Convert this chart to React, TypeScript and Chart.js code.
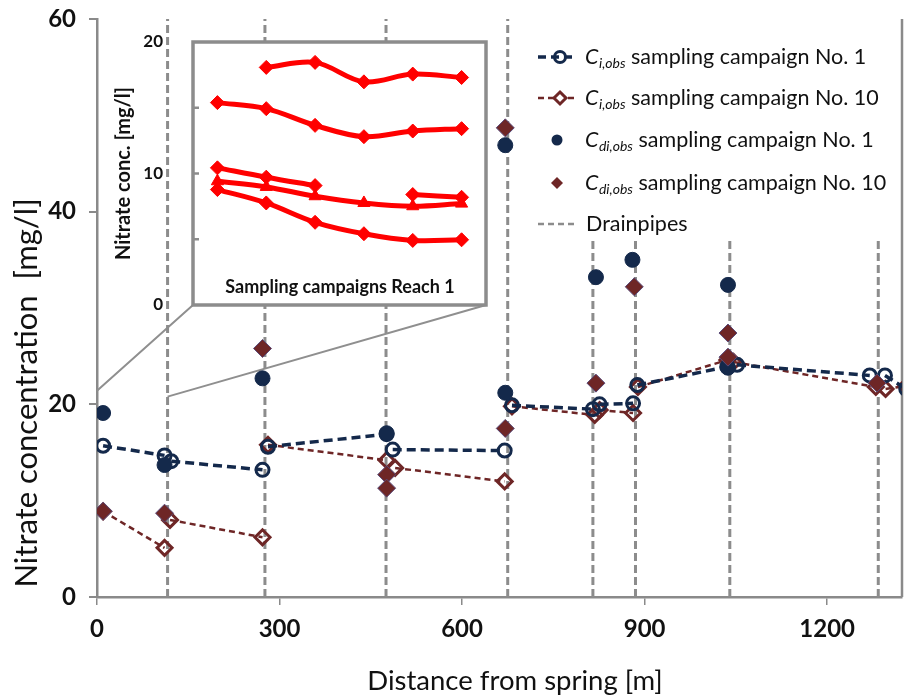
import React, { useEffect, useRef } from "react";
import { Chart, registerables } from "chart.js";

Chart.register(...registerables);

// ---------------- data ----------------
const drainDist = [116, 276, 475, 675, 815, 885, 1040, 1284];
const drainTop = [60, 60, 60, 60, 37, 37, 37, 37];

// C_i,obs campaign No. 1 (null = break between reaches)
const ci1Dist = [10, 111, null, 122, 272, null, 281, 476, null, 486, 670, null, 682, 815, null, 826, 881, null, 888, 1036, null, 1052, 1270, null, 1295, 1330];
const ci1Conc = [15.7, 14.7, null, 14.1, 13.2, null, 15.6, 16.9, null, 15.3, 15.2, null, 19.9, 19.5, null, 20.0, 20.1, null, 22.0, 23.9, null, 24.1, 23.0, null, 23.0, 21.6];

// C_i,obs campaign No. 10
const ci10Dist = [10, 111, null, 120, 272, null, 281, 476, null, 490, 670, null, 682, 818, null, 826, 881, null, 889, 1036, null, 1046, 1280, null, 1296, 1330];
const ci10Conc = [8.9, 5.1, null, 8.0, 6.2, null, 15.8, 14.2, null, 13.4, 12.0, null, 19.8, 18.9, null, 19.4, 19.1, null, 21.8, 24.6, null, 24.4, 21.8, null, 21.6, 21.9];

// C_di,obs campaign No. 1
const cdi1Dist = [10, 111, 272, 476, 671, 671, 820, 880, 1037, 1037];
const cdi1Conc = [19.1, 13.7, 22.7, 17.0, 21.2, 46.9, 33.2, 35.0, 32.4, 23.8];

// C_di,obs campaign No. 10
const cdi10Dist = [10, 111, 272, 476, 476, 671, 671, 820, 883, 1037, 1037, 1282];
const cdi10Conc = [8.9, 8.7, 25.8, 12.7, 11.3, 48.7, 17.5, 22.2, 32.2, 27.4, 24.9, 22.2];

const xTicks = [0, 300, 600, 900, 1200];
const yTicks = [0, 20, 40, 60];

// inset: sampling campaigns reach 1
const insetCampaign = [1, 2, 3, 4, 5, 6];
const insetA = [null, 18.07, 18.45, 16.97, 17.56, 17.3];
const insetB = [15.39, 14.93, 13.66, 12.8, 13.23, 13.41];
const insetC = [10.43, 9.72, 9.08, null, 8.4, 8.19];
const insetD = [9.41, 8.98, 8.27, 7.76, 7.51, 7.71];
const insetE = [8.78, 7.76, 6.29, 5.42, 4.91, 4.96];

// callout anchor on main chart
const calloutDist = [0, 116];
const calloutConc = [21.4, 20.8];

// ---------------- styles ----------------
const FONT = "Lato, 'Open Sans', sans-serif";
const NAVY = "#14294b";
const BROWN = "#6e2626";
const AXIS = "#8a8a8a";
const DRAIN = "#8c8c8c";
const TEXT = "#111111";
const RED = "#ff0000";

const INSET = { left: 100, top: 20, width: 400, height: 300, padTop: 22, padRight: 14, padBottom: 15, yWidth: 93 };
const insetBoxLeft = INSET.left + INSET.yWidth;
const insetBoxRight = INSET.left + INSET.width - INSET.padRight;
const insetBoxBottom = INSET.top + INSET.height - INSET.padBottom;

function zip(d: (number | null)[], v: (number | null)[]) {
  const out: { x: number; y: number | null }[] = [];
  let last = 0;
  d.forEach((xv, i) => {
    const x = xv == null ? last : xv;
    last = x;
    out.push({ x, y: v[i] });
  });
  return out;
}

function drainData() {
  const out: { x: number; y: number | null }[] = [];
  drainDist.forEach((x, i) => {
    out.push({ x, y: 0 }, { x, y: drainTop[i] }, { x, y: null });
  });
  return out;
}

function noPad(s: any) {
  s.paddingTop = 0;
  s.paddingBottom = 0;
  s.paddingLeft = 0;
  s.paddingRight = 0;
}

function drawDiamond(ctx: CanvasRenderingContext2D, x: number, y: number, r: number) {
  ctx.beginPath();
  ctx.moveTo(x, y - r);
  ctx.lineTo(x + r, y);
  ctx.lineTo(x, y + r);
  ctx.lineTo(x - r, y);
  ctx.closePath();
}

function drawRich(ctx: CanvasRenderingContext2D, x: number, yc: number, sub: string, rest: string) {
  ctx.fillStyle = TEXT;
  ctx.textBaseline = "alphabetic";
  ctx.textAlign = "left";
  ctx.font = `italic 21.5px ${FONT}`;
  ctx.fillText("C", x, yc + 7);
  let cx = x + ctx.measureText("C").width + 0.5;
  ctx.font = `italic 14px ${FONT}`;
  ctx.fillText(sub, cx, yc + 11);
  cx += ctx.measureText(sub).width;
  ctx.font = `21.5px ${FONT}`;
  ctx.fillText(rest, cx, yc + 7);
}

const mainDecor = {
  id: "mainDecor",
  beforeDatasetsDraw(chart: any) {
    const { ctx, chartArea: a, scales } = chart;
    const x = scales.x;
    const y = scales.y;
    ctx.save();
    ctx.strokeStyle = AXIS;
    ctx.lineWidth = 2.5;
    ctx.beginPath();
    ctx.moveTo(a.right, a.top);
    ctx.lineTo(a.right, a.bottom);
    ctx.stroke();
    ctx.lineWidth = 2;
    ctx.strokeStyle = "#8f8f8f";
    ctx.beginPath();
    ctx.moveTo(x.getPixelForValue(calloutDist[0]), y.getPixelForValue(calloutConc[0]));
    ctx.lineTo(insetBoxLeft, insetBoxBottom);
    ctx.moveTo(x.getPixelForValue(calloutDist[1]), y.getPixelForValue(calloutConc[1]));
    ctx.lineTo(insetBoxRight, insetBoxBottom);
    ctx.stroke();
    ctx.restore();
  },
  afterDraw(chart: any) {
    const { ctx } = chart;
    ctx.save();
    // axis titles
    ctx.fillStyle = TEXT;
    ctx.textAlign = "center";
    ctx.textBaseline = "middle";
    ctx.font = `27.5px ${FONT}`;
    ctx.fillText("Distance from spring [m]", 515, 681);
    ctx.save();
    ctx.translate(27, 393);
    ctx.rotate(-Math.PI / 2);
    ctx.font = `31px ${FONT}`;
    ctx.fillText("Nitrate concentration  [mg/l]", 0, 0);
    ctx.restore();

    // legend
    const lx0 = 538, lx1 = 575, mx = 557, tx = 585;
    const rows = [57, 98, 140, 183, 224];
    // row 1
    ctx.strokeStyle = NAVY;
    ctx.lineWidth = 3.5;
    ctx.setLineDash([8, 5]);
    ctx.beginPath(); ctx.moveTo(lx0, rows[0]); ctx.lineTo(lx1, rows[0]); ctx.stroke();
    ctx.setLineDash([]);
    ctx.lineWidth = 3;
    ctx.beginPath(); ctx.arc(mx + 3, rows[0], 5.5, 0, Math.PI * 2); ctx.stroke();
    drawRich(ctx, tx, rows[0], "i,obs", " sampling campaign No. 1");
    // row 2
    ctx.strokeStyle = BROWN;
    ctx.lineWidth = 2.5;
    ctx.setLineDash([6, 4]);
    ctx.beginPath(); ctx.moveTo(lx0, rows[1]); ctx.lineTo(lx1, rows[1]); ctx.stroke();
    ctx.setLineDash([]);
    ctx.lineWidth = 3;
    ctx.fillStyle = "#ffffff";
    drawDiamond(ctx, mx + 3, rows[1], 6);
    ctx.fill();
    ctx.stroke();
    drawRich(ctx, tx, rows[1], "i,obs", " sampling campaign No. 10");
    // row 3
    ctx.fillStyle = NAVY;
    ctx.beginPath(); ctx.arc(mx, rows[2], 5.5, 0, Math.PI * 2); ctx.fill();
    drawRich(ctx, tx, rows[2], "di,obs", " sampling campaign No. 1");
    // row 4
    ctx.fillStyle = BROWN;
    drawDiamond(ctx, mx, rows[3], 6);
    ctx.fill();
    drawRich(ctx, tx, rows[3], "di,obs", " sampling campaign No. 10");
    // row 5
    ctx.strokeStyle = DRAIN;
    ctx.lineWidth = 2.5;
    ctx.setLineDash([6, 4]);
    ctx.beginPath(); ctx.moveTo(lx0, rows[4]); ctx.lineTo(lx1, rows[4]); ctx.stroke();
    ctx.setLineDash([]);
    ctx.fillStyle = TEXT;
    ctx.font = `21.5px ${FONT}`;
    ctx.textAlign = "left";
    ctx.textBaseline = "alphabetic";
    ctx.fillText("Drainpipes", tx + 1, rows[4] + 7);
    ctx.restore();
  },
};

const insetDecor = {
  id: "insetDecor",
  beforeDraw(chart: any) {
    const { ctx, chartArea: a } = chart;
    ctx.save();
    ctx.fillStyle = "#ffffff";
    ctx.fillRect(a.left, a.top, a.right - a.left, a.bottom - a.top);
    ctx.restore();
  },
  afterDraw(chart: any) {
    const { ctx, chartArea: a, scales } = chart;
    ctx.save();
    ctx.strokeStyle = "#8c8c8c";
    ctx.lineWidth = 3.5;
    ctx.strokeRect(a.left, a.top, a.right - a.left, a.bottom - a.top);
    ctx.lineWidth = 2.5;
    [5, 10, 15].forEach((v) => {
      const py = scales.y.getPixelForValue(v);
      ctx.beginPath();
      ctx.moveTo(a.left, py);
      ctx.lineTo(a.left + 6, py);
      ctx.stroke();
    });
    ctx.fillStyle = TEXT;
    ctx.font = `bold 18px ${FONT}`;
    ctx.textAlign = "center";
    ctx.textBaseline = "middle";
    ctx.fillText("Sampling campaigns Reach 1", 240, 267);
    ctx.restore();
  },
};

export default function App() {
  const mainRef = useRef<HTMLCanvasElement>(null);
  const insetRef = useRef<HTMLCanvasElement>(null);

  useEffect(() => {
    const main = new Chart(mainRef.current as HTMLCanvasElement, {
      type: "line",
      data: {
        datasets: [
          {
            label: "Cdi,obs sampling campaign No. 10",
            data: zip(cdi10Dist, cdi10Conc),
            showLine: false,
            pointStyle: "rectRot",
            pointRadius: 9,
            pointBackgroundColor: BROWN,
            pointBorderColor: "#5a4a78",
            pointBorderWidth: 1,
            order: 0,
          },
          {
            label: "Cdi,obs sampling campaign No. 1",
            data: zip(cdi1Dist, cdi1Conc),
            showLine: false,
            pointStyle: "circle",
            pointRadius: 7.5,
            pointBackgroundColor: NAVY,
            pointBorderColor: NAVY,
            pointBorderWidth: 1,
            order: 1,
          },
          {
            label: "Ci,obs sampling campaign No. 1",
            data: zip(ci1Dist, ci1Conc),
            borderColor: NAVY,
            borderWidth: 3.5,
            borderDash: [9, 5],
            pointStyle: "circle",
            pointRadius: 6.5,
            pointBorderWidth: 3,
            pointBorderColor: NAVY,
            pointBackgroundColor: "rgba(255,255,255,0)",
            spanGaps: false,
            order: 2,
          },
          {
            label: "Ci,obs sampling campaign No. 10",
            data: zip(ci10Dist, ci10Conc),
            borderColor: BROWN,
            borderWidth: 2.5,
            borderDash: [6, 4],
            pointStyle: "rectRot",
            pointRadius: 7.5,
            pointBorderWidth: 3,
            pointBorderColor: BROWN,
            pointBackgroundColor: "rgba(255,255,255,0)",
            spanGaps: false,
            order: 3,
          },
          {
            label: "Drainpipes",
            data: drainData(),
            borderColor: DRAIN,
            borderWidth: 3,
            borderDash: [8, 4],
            pointRadius: 0,
            spanGaps: false,
            order: 10,
          },
        ] as any,
      },
      options: {
        responsive: false,
        animation: false,
        events: [],
        layout: { autoPadding: false, padding: { top: 19, right: 5, left: 0, bottom: 0 } },
        plugins: { legend: { display: false }, tooltip: { enabled: false } },
        scales: {
          x: {
            type: "linear",
            min: 0,
            max: 1323,
            afterBuildTicks: (s: any) => {
              s.ticks = xTicks.map((v) => ({ value: v }));
            },
            afterFit: (s: any) => {
              s.height = 98;
              noPad(s);
            },
            ticks: {
              includeBounds: false,
              maxRotation: 0,
              autoSkip: false,
              padding: 10,
              color: TEXT,
              font: { family: FONT, size: 24, weight: "bold" },
              callback: (v: any) => String(v),
            },
            grid: { drawOnChartArea: false, drawTicks: true, tickLength: 8, color: AXIS, lineWidth: 1.5 },
            border: { color: AXIS, width: 2.5 },
          },
          y: {
            type: "linear",
            min: 0,
            max: 60,
            afterBuildTicks: (s: any) => {
              s.ticks = yTicks.map((v) => ({ value: v }));
            },
            afterFit: (s: any) => {
              s.width = 97;
              noPad(s);
            },
            ticks: {
              padding: 13,
              color: TEXT,
              font: { family: FONT, size: 24, weight: "bold" },
              callback: (v: any) => String(v),
            },
            grid: { drawOnChartArea: false, drawTicks: true, tickLength: 8, color: AXIS, lineWidth: 2 },
            border: { color: AXIS, width: 2.5 },
          },
        },
      } as any,
      plugins: [mainDecor],
    });

    const mk = (vals: (number | null)[], style: string) => ({
      data: insetCampaign.map((c, i) => ({ x: c, y: vals[i] })),
      borderColor: RED,
      borderWidth: 5,
      tension: 0.35,
      spanGaps: false,
      pointStyle: style,
      pointRadius: 7,
      pointBackgroundColor: RED,
      pointBorderColor: RED,
      pointBorderWidth: 1,
    });

    const inset = new Chart(insetRef.current as HTMLCanvasElement, {
      type: "line",
      data: {
        datasets: [
          mk(insetA, "rectRot"),
          mk(insetB, "rectRot"),
          mk(insetC, "rectRot"),
          mk(insetD, "triangle"),
          mk(insetE, "rectRot"),
        ] as any,
      },
      options: {
        responsive: false,
        animation: false,
        events: [],
        layout: {
          autoPadding: false,
          padding: { top: INSET.padTop, right: INSET.padRight, bottom: INSET.padBottom, left: 0 },
        },
        plugins: { legend: { display: false }, tooltip: { enabled: false } },
        scales: {
          x: { type: "linear", min: 0.5, max: 6.5, display: false },
          y: {
            type: "linear",
            min: 0,
            max: 20,
            afterFit: (s: any) => {
              s.width = INSET.yWidth;
              noPad(s);
            },
            ticks: {
              stepSize: 5,
              padding: 30,
              color: TEXT,
              font: { family: FONT, size: 17, weight: "bold" },
              callback: (v: any) => (Number(v) % 10 === 0 ? String(v) : ""),
            },
            grid: { display: false, drawTicks: false },
            border: { display: false },
            title: {
              display: true,
              text: "Nitrate conc. [mg/l]",
              color: TEXT,
              font: { family: FONT, size: 20, weight: "bold" },
              padding: { top: 12, bottom: 0 },
            },
          },
        },
      } as any,
      plugins: [insetDecor],
    });

    return () => {
      main.destroy();
      inset.destroy();
    };
  }, []);

  return (
    <div style={{ position: "absolute", left: 0, top: 0, width: 907, height: 695, background: "#ffffff" }}>
      <canvas
        ref={mainRef}
        width={907}
        height={695}
        style={{ position: "absolute", left: 0, top: 0, width: 907, height: 695 }}
      />
      <canvas
        ref={insetRef}
        width={INSET.width}
        height={INSET.height}
        style={{ position: "absolute", left: INSET.left, top: INSET.top, width: INSET.width, height: INSET.height }}
      />
    </div>
  );
}
